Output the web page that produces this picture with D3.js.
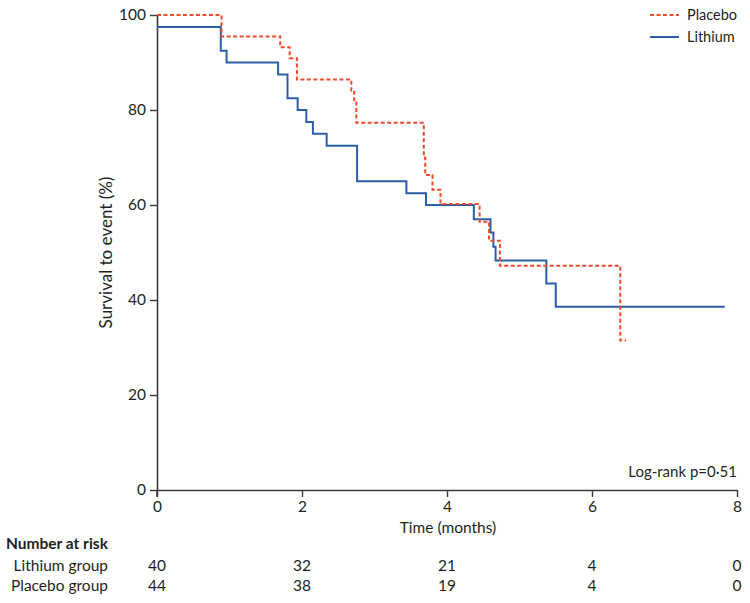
<!DOCTYPE html>
<html><head><meta charset="utf-8">
<script src="https://cdn.jsdelivr.net/npm/d3@7"></script>
<style>
body{margin:0;background:#fff;}
svg{display:block;font-family:Lato,"Open Sans",sans-serif;}
</style></head>
<body><svg id="c" width="750" height="603"></svg>
<script>
// Kaplan-Meier step data (time in months, survival %)
const lithiumTimes = [0, 0.88, 0.96, 1.67, 1.80, 1.94, 2.06, 2.15, 2.34, 2.76, 3.44, 3.71, 4.37, 4.60, 4.64, 4.67, 5.37, 5.50, 7.83];
const lithiumSurv  = [97.5, 92.5, 90.0, 87.5, 82.5, 80.0, 77.5, 75.0, 72.5, 65.0, 62.5, 60.0, 57.0, 54.2, 51.2, 48.3, 43.5, 38.6, 38.6];
const placeboTimes = [0, 0.89, 1.70, 1.83, 1.93, 2.68, 2.72, 2.75, 3.68, 3.70, 3.80, 3.91, 4.45, 4.58, 4.73, 6.39, 6.47];
const placeboSurv  = [100, 95.5, 93.2, 90.9, 86.4, 84.1, 81.8, 77.3, 70.0, 66.3, 63.2, 60.2, 56.5, 52.5, 47.2, 31.5, 31.5];
const xTicks = [0, 2, 4, 6, 8];
const yTicks = [0, 20, 40, 60, 80, 100];
const riskGroups = ["Lithium group", "Placebo group"];
const riskLithium = [40, 32, 21, 4, 0];
const riskPlacebo = [44, 38, 19, 4, 0];

const svg = d3.select("#c");
const x = d3.scaleLinear().domain([0, 8]).range([157, 737]);
const y = d3.scaleLinear().domain([0, 100]).range([490, 15]);
const axisColor = "#3a3a3a";
const textColor = "#231f20";

// axes
const gx = svg.append("g").attr("transform", `translate(0,${y(0)})`)
  .call(d3.axisBottom(x).tickValues(xTicks).tickSize(7).tickPadding(4).tickSizeOuter(0));
const gy = svg.append("g").attr("transform", `translate(${x(0)},0)`)
  .call(d3.axisLeft(y).tickValues(yTicks).tickSize(7).tickPadding(4).tickSizeOuter(0));
[gx, gy].forEach(g => {
  g.select(".domain").attr("stroke", axisColor).attr("stroke-width", 1.6);
  g.selectAll(".tick line").attr("stroke", axisColor).attr("stroke-width", 1.4);
  g.selectAll(".tick text").attr("fill", textColor).style("font-size", "15.5px").style("font-family", "Lato, sans-serif");
});
// y axis extends slightly below origin
svg.append("line").attr("x1", x(0)).attr("x2", x(0)).attr("y1", y(0)).attr("y2", y(0) + 7)
  .attr("stroke", axisColor).attr("stroke-width", 1.6);

// axis titles
svg.append("text").attr("x", 448).attr("y", 533).attr("text-anchor", "middle")
  .attr("fill", textColor).style("font-size", "15.5px").text("Time (months)");
svg.append("text").attr("transform", `translate(112,${y(50)}) rotate(-90)`).attr("text-anchor", "middle")
  .attr("fill", textColor).style("font-size", "17px").text("Survival to event (%)");

// curves
const line = d3.line().x(d => x(d[0])).y(d => y(d[1])).curve(d3.curveStepAfter);
const lith = lithiumTimes.map((t, i) => [t, lithiumSurv[i]]);
const plac = placeboTimes.map((t, i) => [t, placeboSurv[i]]);
svg.append("path").datum(lith).attr("d", line).attr("fill", "none")
  .attr("stroke", "#2c5ea8").attr("stroke-width", 2);
svg.append("path").datum(plac).attr("d", line).attr("fill", "none")
  .attr("stroke", "#ee4a2c").attr("stroke-width", 2).attr("stroke-dasharray", "4,2.5");

// legend
const leg = svg.append("g");
leg.append("line").attr("x1", 650).attr("x2", 679).attr("y1", 15).attr("y2", 15)
  .attr("stroke", "#ee4a2c").attr("stroke-width", 2).attr("stroke-dasharray", "4,2.5");
leg.append("text").attr("x", 687).attr("y", 20).attr("fill", textColor).style("font-size", "14.5px").text("Placebo");
leg.append("line").attr("x1", 650).attr("x2", 679).attr("y1", 37).attr("y2", 37)
  .attr("stroke", "#2c5ea8").attr("stroke-width", 2);
leg.append("text").attr("x", 687).attr("y", 42).attr("fill", textColor).style("font-size", "14.5px").text("Lithium");

// log-rank
svg.append("text").attr("x", 737).attr("y", 477).attr("text-anchor", "end")
  .attr("fill", textColor).style("font-size", "15px").text("Log-rank p=0·51");

// number at risk table
svg.append("text").attr("x", 6).attr("y", 549).attr("fill", textColor)
  .style("font-size", "15.5px").style("font-weight", "bold").text("Number at risk");
const rows = [riskLithium, riskPlacebo];
const rowY = [571, 591];
riskGroups.forEach((g, i) => {
  svg.append("text").attr("x", 108).attr("y", rowY[i]).attr("text-anchor", "end")
    .attr("fill", textColor).style("font-size", "15.5px").text(g);
  svg.selectAll(null).data(rows[i]).enter().append("text")
    .attr("x", (d, j) => x(xTicks[j])).attr("y", rowY[i]).attr("text-anchor", "middle")
    .attr("fill", textColor).style("font-size", "15.5px").text(d => d);
});
</script></body></html>
